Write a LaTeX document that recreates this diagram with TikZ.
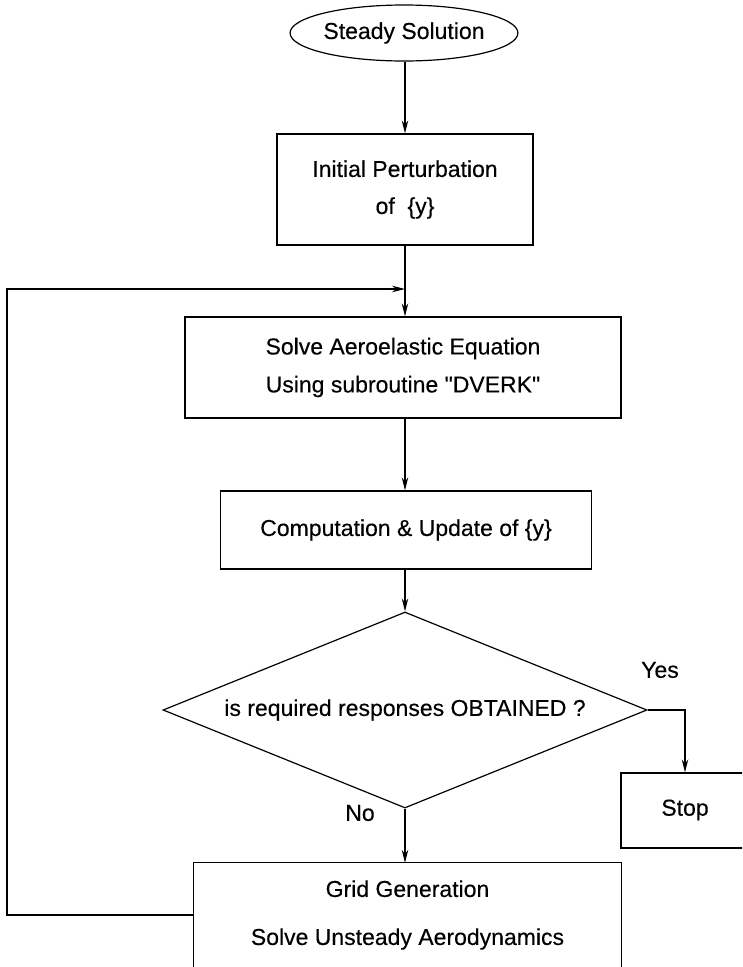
\documentclass[tikz,border=0pt]{standalone}
\usepackage{fontspec}
\setmainfont{Liberation Sans}[Ligatures=TeXOff, FakeBold=0.3]
\usetikzlibrary{shapes.geometric,arrows.meta}
\begin{document}
\begin{tikzpicture}[x=1pt,y=-1pt,
  every node/.style={font=\fontsize{23}{37}\selectfont},
  box/.style={draw, line width=1.2pt, inner sep=0pt, align=center},
  link/.style={line width=1.2pt, -{Stealth[length=13pt,width=6.5pt]}},
  lbl/.style={inner sep=0pt}]
\useasboundingbox (0,0) rectangle (742,967);
\clip (0,0) rectangle (742,967);

% main chain, centred on x = 405
\node[draw, ellipse, line width=1.2pt, minimum width=216pt, minimum height=56pt, inner sep=0pt]
  (steady) at (404,33) {Steady Solution};
\node[box, minimum width=256pt, minimum height=111pt] (init) at (405,189.5)
  {Initial Perturbation\\of\ \ \{y\}};
\node[box, minimum width=436pt, minimum height=101pt, font=\fontsize{23}{38}\selectfont]
  (solve) at (403,367.5)
  {Solve Aeroelastic Equation\\Using subroutine "DVERK"};
\node[box, minimum width=371pt, minimum height=78pt] (comp) at (406,530)
  {Computation \& Update of \{y\}};
\node[draw, diamond, line width=1.2pt, minimum width=484pt, minimum height=196pt,
  aspect=2.47, inner sep=0pt] (dec) at (405,710) {is required responses OBTAINED ?};
\node[box, minimum width=130pt, minimum height=75pt] (stop) at (686,810.5) {};
\node[lbl] (stoptext) at (685,810) {Stop};

% bottom box: open at the lower edge of the page
\node[minimum width=427pt, minimum height=104pt, inner sep=0pt, align=center,
  font=\fontsize{23}{48}\selectfont]
  (grid) at (407.5,915) {Grid Generation\\Solve Unsteady Aerodynamics};
\draw[line width=1.2pt] (grid.north west |- 0,980) -- (grid.north west)
  -- (grid.north east) -- (grid.north east |- 0,980);

% branch labels
\node[lbl] (yes) at (660,670) {Yes};
\node[lbl] (no) at (360,813) {No};

% helper points of the loop and of the yes branch
\coordinate (corner) at (7,289);
\coordinate (join) at (405,289);
\coordinate (yesturn) at (685,710);

% connectors, all on the vertical axis through the decision node
\draw[link] (steady.south -| dec.north) -- (init.north -| dec.north);
\draw[link] (init.south -| dec.north) -- (solve.north -| dec.north);
\draw[link] (solve.south -| dec.north) -- (comp.north -| dec.north);
\draw[link] (comp.south -| dec.north) -- (dec.north);
\draw[link] (dec.south) -- (dec.south |- grid.north);
\draw[link] (dec.east) -- (yesturn) -- (yesturn |- stop.north);
\draw[link] (grid.west) -| (corner) -- (join);
\end{tikzpicture}
\end{document}
